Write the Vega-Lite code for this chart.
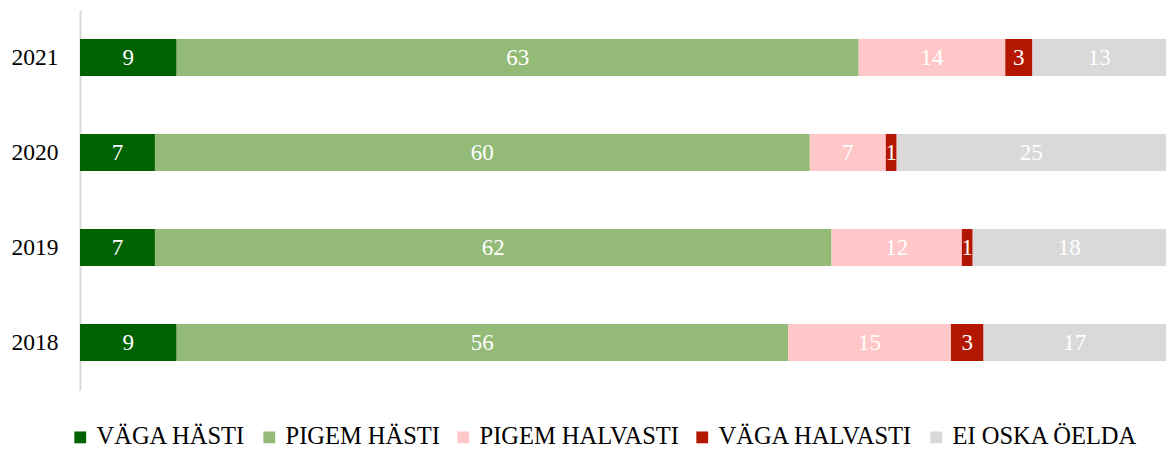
{
  "$schema": "https://vega.github.io/schema/vega-lite/v6.json",
  "width": 1086,
  "height": 380,
  "autosize": {"type": "none"},
  "padding": {"left": 80, "top": 10, "right": 0, "bottom": 60},
  "background": "white",
  "config": {
    "view": {"stroke": null},
    "font": "Liberation Serif",
    "legend": {"labelFont": "Liberation Serif", "labelFontSize": 24.5, "labelColor": "#000000"},
    "axis": {"labelFont": "Liberation Serif"},
    "text": {"font": "Liberation Serif"}
  },
  "data": {
    "values": [
      {"year": "2021", "cat": "VÄGA HÄSTI", "idx": 1, "value": 8.9, "label": 9},
      {"year": "2021", "cat": "PIGEM HÄSTI", "idx": 2, "value": 62.8, "label": 63},
      {"year": "2021", "cat": "PIGEM HALVASTI", "idx": 3, "value": 13.5, "label": 14},
      {"year": "2021", "cat": "VÄGA HALVASTI", "idx": 4, "value": 2.5, "label": 3},
      {"year": "2021", "cat": "EI OSKA ÖELDA", "idx": 5, "value": 12.3, "label": 13},
      {"year": "2020", "cat": "VÄGA HÄSTI", "idx": 1, "value": 6.9, "label": 7},
      {"year": "2020", "cat": "PIGEM HÄSTI", "idx": 2, "value": 60.3, "label": 60},
      {"year": "2020", "cat": "PIGEM HALVASTI", "idx": 3, "value": 7.0, "label": 7},
      {"year": "2020", "cat": "VÄGA HALVASTI", "idx": 4, "value": 1.0, "label": 1},
      {"year": "2020", "cat": "EI OSKA ÖELDA", "idx": 5, "value": 24.8, "label": 25},
      {"year": "2019", "cat": "VÄGA HÄSTI", "idx": 1, "value": 6.9, "label": 7},
      {"year": "2019", "cat": "PIGEM HÄSTI", "idx": 2, "value": 62.3, "label": 62},
      {"year": "2019", "cat": "PIGEM HALVASTI", "idx": 3, "value": 12.0, "label": 12},
      {"year": "2019", "cat": "VÄGA HALVASTI", "idx": 4, "value": 1.0, "label": 1},
      {"year": "2019", "cat": "EI OSKA ÖELDA", "idx": 5, "value": 17.8, "label": 18},
      {"year": "2018", "cat": "VÄGA HÄSTI", "idx": 1, "value": 8.9, "label": 9},
      {"year": "2018", "cat": "PIGEM HÄSTI", "idx": 2, "value": 56.3, "label": 56},
      {"year": "2018", "cat": "PIGEM HALVASTI", "idx": 3, "value": 15.0, "label": 15},
      {"year": "2018", "cat": "VÄGA HALVASTI", "idx": 4, "value": 3.0, "label": 3},
      {"year": "2018", "cat": "EI OSKA ÖELDA", "idx": 5, "value": 16.8, "label": 17}
    ]
  },
  "encoding": {
    "y": {
      "field": "year",
      "type": "nominal",
      "sort": ["2021", "2020", "2019", "2018"],
      "scale": {"paddingInner": 0.61, "paddingOuter": 0.305},
      "axis": {
        "title": null,
        "ticks": false,
        "domainColor": "#d9d9d9",
        "domainWidth": 2,
        "labelFont": "Liberation Serif",
        "labelFontSize": 23.5,
        "labelColor": "#000000",
        "labelPadding": 22
      }
    }
  },
  "layer": [
    {
      "mark": {"type": "bar"},
      "encoding": {
        "x": {"field": "value", "type": "quantitative", "stack": "normalize", "axis": null, "scale": {"domain": [0, 1], "nice": false}},
        "color": {
          "field": "cat",
          "type": "nominal",
          "sort": ["VÄGA HÄSTI", "PIGEM HÄSTI", "PIGEM HALVASTI", "VÄGA HALVASTI", "EI OSKA ÖELDA"],
          "scale": {
            "domain": ["VÄGA HÄSTI", "PIGEM HÄSTI", "PIGEM HALVASTI", "VÄGA HALVASTI", "EI OSKA ÖELDA"],
            "range": ["#006100", "#94ba78", "#ffc7c7", "#b41700", "#d9d9d9"]
          },
          "legend": {
            "title": null,
            "orient": "none",
            "legendX": -12,
            "legendY": 415,
            "direction": "horizontal",
            "symbolType": "square",
            "symbolSize": 140,
            "symbolStrokeWidth": 0,
            "labelFont": "Liberation Serif",
            "labelFontSize": 24.5,
            "labelColor": "#000000",
            "labelOffset": 4,
            "columnPadding": 11,
            "labelLimit": 400
          }
        },
        "order": {"field": "idx", "type": "quantitative"}
      }
    },
    {
      "mark": {"type": "text", "color": "white", "font": "Liberation Serif", "fontSize": 23, "baseline": "middle", "align": "center"},
      "encoding": {
        "x": {"field": "value", "type": "quantitative", "stack": "normalize", "bandPosition": 0.5},
        "detail": {"field": "cat", "type": "nominal"},
        "order": {"field": "idx", "type": "quantitative"},
        "text": {"field": "label", "type": "quantitative"}
      }
    }
  ]
}
